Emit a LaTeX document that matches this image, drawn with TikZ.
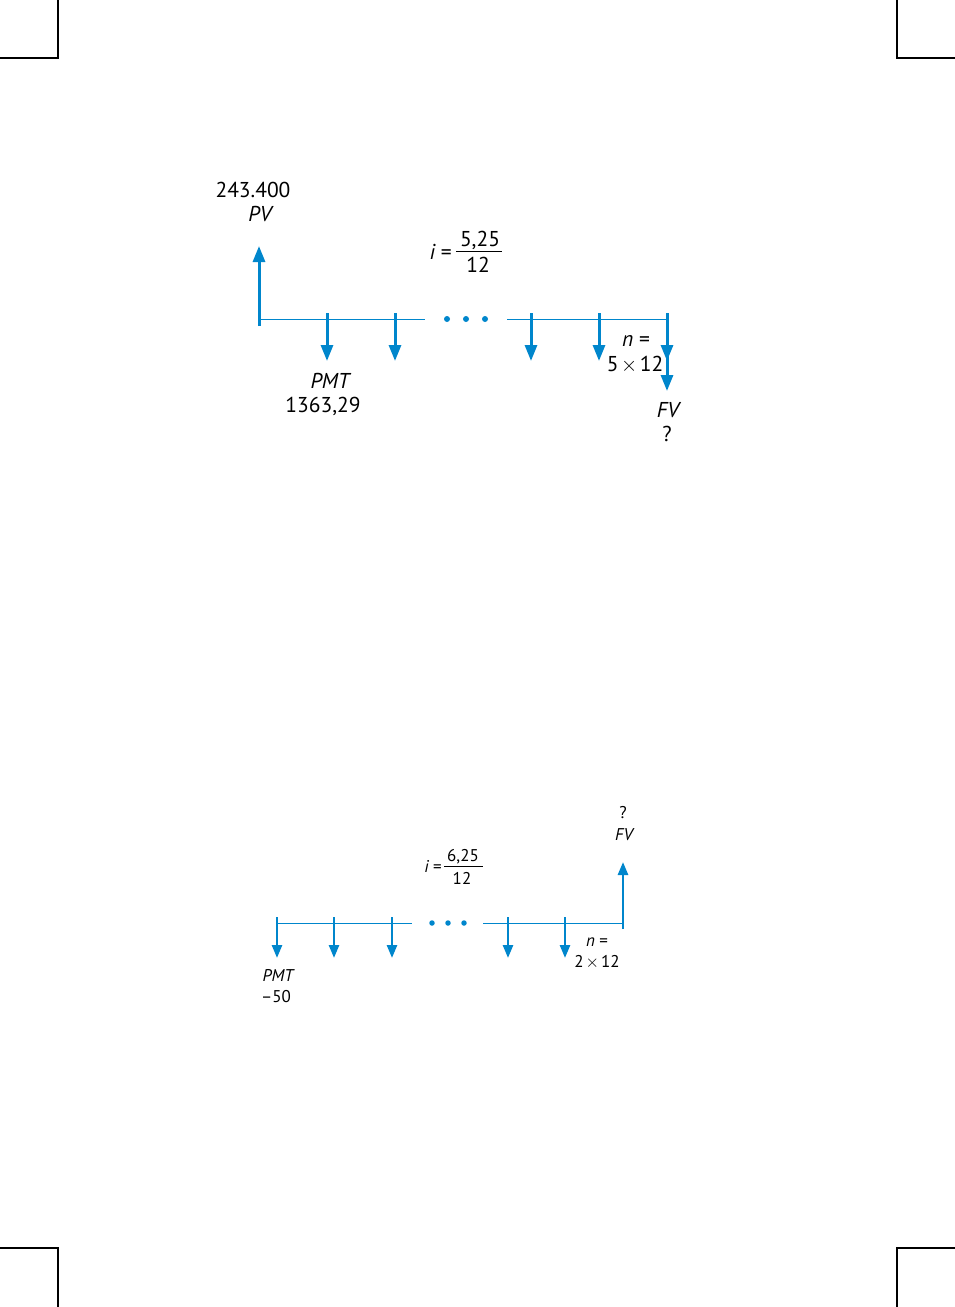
\documentclass[tikz,border=0pt]{standalone}
\usepackage{fontspec}
\setmainfont{PT Sans}
\usetikzlibrary{arrows.meta}
\definecolor{hpblue}{RGB}{0,134,204}
\newcommand{\tms}{\hspace{0.12em}\ensuremath{\times}\hspace{0.12em}}
\begin{document}
\begin{tikzpicture}[x=1pt,y=-1pt,
  crop/.style={line width=2pt,black},
  axisline/.style={hpblue,line width=1pt},
  bigarrow/.style={hpblue,line width=3pt,-{Triangle[width=12pt,length=16pt]}},
  smallarrow/.style={hpblue,line width=2.6pt,-{Triangle[width=10pt,length=13pt]}},
  dotmark/.style={circle,fill=hpblue,inner sep=0pt,minimum size=6pt},
  bigtxt/.style={font=\fontsize{21.5}{24}\selectfont,inner sep=0pt},
  smalltxt/.style={font=\fontsize{17}{20}\selectfont,inner sep=0pt}]
\useasboundingbox (0,0) rectangle (955,1307);
% crop marks
\draw[crop] (58,0) -- (58,58) -- (0,58);
\draw[crop] (897,0) -- (897,58) -- (955,58);
\draw[crop] (0,1248) -- (58,1248) -- (58,1307);
\draw[crop] (955,1248) -- (897,1248) -- (897,1307);

% ===== diagram 1 =====
\coordinate (a1L) at (259,319);
\coordinate (a1m1) at (425,319);
\coordinate (a1m2) at (507,319);
\coordinate (a1R) at (667,319);
\draw[axisline] (a1L) -- (a1m1);
\draw[axisline] (a1m2) -- (a1R);
\node[dotmark] (d1a) at (447,319) {};
\node[dotmark] (d1b) at (466,319) {};
\node[dotmark] (d1c) at (485,319) {};
\coordinate (pv0) at (259,326);
\coordinate (pv1) at (259,246);
\draw[bigarrow] (pv0) -- (pv1);
\foreach \x/\n in {327/p1,395/p2,531/p3,599/p4}{
  \coordinate (\n s) at (\x,313);
  \coordinate (\n e) at (\x,361);
  \draw[bigarrow] (\n s) -- (\n e);
}
\coordinate (n1s) at (667,313);
\coordinate (n1e) at (667,361);
\coordinate (fv1e) at (667,391);
\draw[bigarrow] (n1s) -- (fv1e);
\draw[bigarrow] (n1s) -- (n1e);
\node[bigtxt] (pvval) at (253,190) {243.400};
\node[bigtxt] (pvlab) at (260,214) {\itshape PV};
\node[bigtxt,anchor=east] (ieq1) at (452,252) {\itshape i\upshape\ =};
\node[bigtxt] (inum1) at (480,240) {5,25};
\node[bigtxt] (iden1) at (478,265) {12};
\coordinate (fr1a) at (456,251);
\coordinate (fr1b) at (502,251);
\draw[line width=0.8pt] (fr1a) -- (fr1b);
\node[bigtxt] (pmtlab) at (330,381) {\itshape PMT};
\node[bigtxt] (pmtval) at (323,406) {1363,29};
\node[bigtxt] (nlab1) at (636,341) {\itshape n\upshape\ =};
\node[bigtxt] (nval1) at (635,365) {5\tms12};
\node[bigtxt] (fvlab1) at (668,410) {\itshape FV};
\node[bigtxt] (fvq1) at (667,434) {?};

% ===== diagram 2 =====
\coordinate (a2L) at (277,923);
\coordinate (a2m1) at (412,923);
\coordinate (a2m2) at (483,923);
\coordinate (a2R) at (623,923);
\draw[axisline] (a2L) -- (a2m1);
\draw[axisline] (a2m2) -- (a2R);
\node[dotmark,minimum size=5.5pt] (d2a) at (432,923) {};
\node[dotmark,minimum size=5.5pt] (d2b) at (448,923) {};
\node[dotmark,minimum size=5.5pt] (d2c) at (464,923) {};
\foreach \x/\n in {277/q1,334/q2,392/q3,508/q4,565/q5}{
  \coordinate (\n s) at (\x,917);
  \coordinate (\n e) at (\x,958);
  \draw[smallarrow] (\n s) -- (\n e);
}
\coordinate (fv2s) at (623,929);
\coordinate (fv2e) at (623,862);
\draw[smallarrow] (fv2s) -- (fv2e);
\node[smalltxt] (fvq2) at (623,813) {?};
\node[smalltxt] (fvlab2) at (624,835) {\itshape FV};
\node[smalltxt,anchor=east] (ieq2) at (442,866) {\itshape i\upshape\ =};
\node[smalltxt] (inum2) at (463,857) {6,25};
\node[smalltxt] (iden2) at (462,878) {12};
\coordinate (fr2a) at (444,866);
\coordinate (fr2b) at (483,866);
\draw[line width=0.7pt] (fr2a) -- (fr2b);
\node[smalltxt] (pmtlab2) at (278,975) {\itshape PMT};
\node[smalltxt] (pmtval2) at (276,997) {–50};
\node[smalltxt] (nlab2) at (597,942) {\itshape n\upshape\ =};
\node[smalltxt] (nval2) at (597,962) {2\tms12};
\end{tikzpicture}
\end{document}
